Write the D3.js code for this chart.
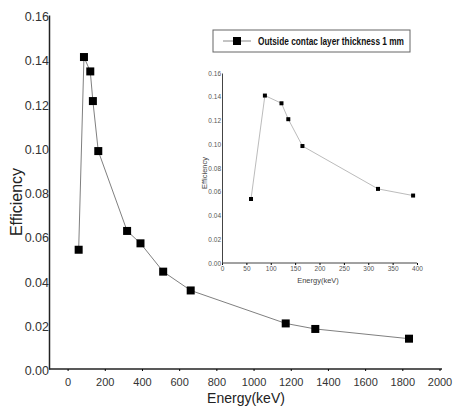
<!DOCTYPE html>
<html>
<head>
<meta charset="utf-8">
<script src="https://cdn.jsdelivr.net/npm/d3@7"></script>
<style>
  body { margin: 0; background: #fff; }
  svg { display: block; font-family: "Liberation Sans", Arial, sans-serif; }
</style>
</head>
<body>
<svg id="chart" width="453" height="409"></svg>
<script>
// measured data (energy in keV, efficiency)
var energy = [59.5, 88, 122, 136, 165, 320, 392, 514, 662, 1173, 1332, 1836]
var efficiency = [0.0539, 0.141, 0.1345, 0.1211, 0.0985, 0.0624, 0.0568, 0.0440, 0.0355, 0.0206, 0.0181, 0.0137]
var xTicks = [0, 200, 400, 600, 800, 1000, 1200, 1400, 1600, 1800, 2000]
var yTicks = [0.00, 0.02, 0.04, 0.06, 0.08, 0.10, 0.12, 0.14, 0.16]
var insetXTicks = [0, 50, 100, 150, 200, 250, 300, 350, 400]
var legendLabel = "Outside contac layer thickness 1 mm"

var points = energy.map(function(e, i) { return [e, efficiency[i]] })
var insetPoints = points.filter(function(d) { return d[0] <= 400 })

var svg = d3.select("#chart")

// ---- main plot ----
var x = d3.scaleLinear().domain([-100, 2000]).range([49, 439.5])
var y = d3.scaleLinear().domain([0, 0.16]).range([369, 15])

var xAxis = svg.append("g")
    .attr("transform", "translate(0,369)")
    .call(d3.axisBottom(x).tickValues(xTicks).tickSize(2).tickFormat(d3.format("d")))
xAxis.select(".domain").attr("d", "M49,0H442").attr("stroke", "#222").attr("stroke-width", 1.5)
xAxis.selectAll("text")
    .attr("font-size", 11)
    .attr("fill", "#333")
    .attr("dy", "1.05em")

var yAxis = svg.append("g")
    .attr("transform", "translate(49,0)")
    .call(d3.axisLeft(y).tickValues(yTicks).tickSize(0).tickFormat(d3.format(".2f")))
yAxis.select(".domain").attr("stroke", "#222").attr("stroke-width", 1.5)
yAxis.selectAll("text").attr("font-size", 12.5).attr("fill", "#333").attr("x", 0).attr("dy", "0.45em")

svg.append("text")
    .attr("transform", "translate(22,202) rotate(-90)")
    .attr("text-anchor", "middle")
    .attr("font-size", 16)
    .attr("fill", "#222")
    .text("Efficiency")

svg.append("text")
    .attr("x", 246).attr("y", 403)
    .attr("text-anchor", "middle")
    .attr("font-size", 14)
    .attr("fill", "#222")
    .text("Energy(keV)")

var line = d3.line().x(function(d) { return x(d[0]) }).y(function(d) { return y(d[1]) })
svg.append("path")
    .attr("d", line(points))
    .attr("fill", "none")
    .attr("stroke", "#808080")
    .attr("stroke-width", 1)

svg.append("g").selectAll("rect")
    .data(points)
    .enter()
    .append("rect")
    .attr("x", function(d) { return x(d[0]) - 4 })
    .attr("y", function(d) { return y(d[1]) - 4 })
    .attr("width", 8)
    .attr("height", 8)
    .attr("fill", "#000")

// ---- legend ----
var legend = svg.append("g")
legend.append("rect")
    .attr("x", 213).attr("y", 30).attr("width", 197).attr("height", 22)
    .attr("fill", "#fff").attr("stroke", "#666").attr("stroke-width", 1)
legend.append("line")
    .attr("x1", 223).attr("x2", 251).attr("y1", 41).attr("y2", 41)
    .attr("stroke", "#888").attr("stroke-width", 1)
legend.append("rect")
    .attr("x", 233).attr("y", 37).attr("width", 8).attr("height", 8)
    .attr("fill", "#000")
legend.append("text")
    .attr("x", 258).attr("y", 45)
    .attr("font-size", 11)
    .attr("font-weight", "bold")
    .attr("font-family", "'Liberation Sans Narrow', 'Arial Narrow', 'Liberation Sans', sans-serif")
    .attr("textLength", 146)
    .attr("lengthAdjust", "spacingAndGlyphs")
    .attr("fill", "#111")
    .text(legendLabel)

// ---- inset ----
var ix = d3.scaleLinear().domain([0, 400]).range([222, 417])
var iy = d3.scaleLinear().domain([0, 0.16]).range([263, 73])

var ixAxis = svg.append("g")
    .attr("transform", "translate(0,263)")
    .call(d3.axisBottom(ix).tickValues(insetXTicks).tickSize(2).tickFormat(d3.format("d")))
ixAxis.select(".domain").attr("d", "M222,0H417").attr("stroke", "#444")
ixAxis.selectAll("text").attr("font-size", 6.5).attr("fill", "#555").attr("dy", "0.4em")

var iyAxis = svg.append("g")
    .attr("transform", "translate(222,0)")
    .call(d3.axisLeft(iy).tickValues(yTicks).tickSize(0).tickFormat(d3.format(".2f")))
iyAxis.select(".domain").attr("stroke", "#444")
iyAxis.selectAll("text").attr("font-size", 6.5).attr("fill", "#555").attr("x", -1)

svg.append("text")
    .attr("transform", "translate(207,173) rotate(-90)")
    .attr("text-anchor", "middle")
    .attr("font-size", 7.5)
    .attr("fill", "#444")
    .text("Efficiency")

svg.append("text")
    .attr("x", 318).attr("y", 283)
    .attr("text-anchor", "middle")
    .attr("font-size", 7.5)
    .attr("fill", "#444")
    .text("Energy(keV)")

var iline = d3.line().x(function(d) { return ix(d[0]) }).y(function(d) { return iy(d[1]) })
svg.append("path")
    .attr("d", iline(insetPoints))
    .attr("fill", "none")
    .attr("stroke", "#aaa")
    .attr("stroke-width", 0.8)

svg.append("g").selectAll("rect")
    .data(insetPoints)
    .enter()
    .append("rect")
    .attr("x", function(d) { return ix(d[0]) - 2 })
    .attr("y", function(d) { return iy(d[1]) - 2 })
    .attr("width", 4)
    .attr("height", 4)
    .attr("fill", "#000")
</script>
</body>
</html>
